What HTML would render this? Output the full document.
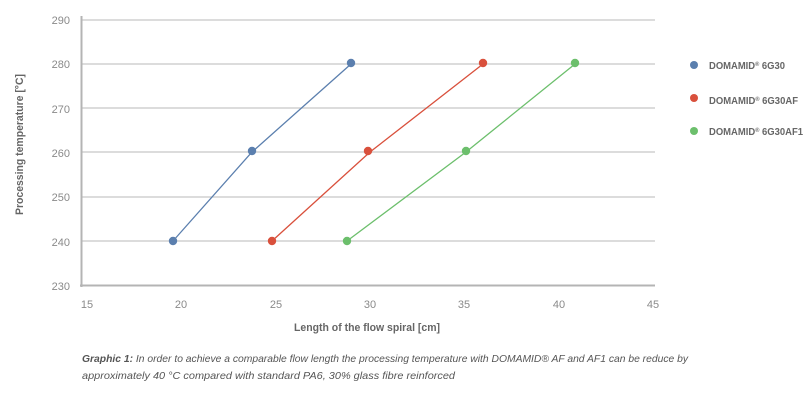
<!DOCTYPE html><html><head><style>body{margin:0;background:#fff;width:806px;height:401px;overflow:hidden}</style></head><body>
<svg width="806" height="401" xmlns="http://www.w3.org/2000/svg" font-family="'Liberation Sans',sans-serif">
<g stroke="#c8c8c8" stroke-width="1.3">
<line x1="82" y1="20" x2="655" y2="20"/><line x1="82" y1="64" x2="655" y2="64"/><line x1="82" y1="108" x2="655" y2="108"/><line x1="82" y1="152" x2="655" y2="152"/><line x1="82" y1="197" x2="655" y2="197"/><line x1="82" y1="241" x2="655" y2="241"/>
</g>
<line x1="81.5" y1="16" x2="81.5" y2="287" stroke="#b4b4b4" stroke-width="2"/>
<line x1="80" y1="285.5" x2="655" y2="285.5" stroke="#b4b4b4" stroke-width="2"/>
<g fill="#8a8a8a" font-size="11" text-anchor="end">
<text x="70" y="24">290</text><text x="70" y="68">280</text><text x="70" y="113">270</text><text x="70" y="157">260</text><text x="70" y="201">250</text><text x="70" y="246">240</text><text x="70" y="290">230</text>
</g>
<g fill="#8a8a8a" font-size="11" text-anchor="middle">
<text x="87" y="308">15</text><text x="181" y="308">20</text><text x="276" y="308">25</text><text x="370" y="308">30</text><text x="464" y="308">35</text><text x="559" y="308">40</text><text x="653" y="308">45</text>
</g>
<text x="294" y="331" fill="#666" font-size="11" font-weight="bold" textLength="146" lengthAdjust="spacingAndGlyphs">Length of the flow spiral [cm]</text>
<text transform="translate(23,215) rotate(-90)" fill="#666" font-size="11" font-weight="bold" textLength="141" lengthAdjust="spacingAndGlyphs">Processing temperature [°C]</text>
<polyline points="173,241 252,152 351,64" fill="none" stroke="#5b7fae" stroke-width="1.3"/>
<polyline points="272,241 370,152 483,64" fill="none" stroke="#d9503c" stroke-width="1.3"/>
<polyline points="347,241 466,152 575,64" fill="none" stroke="#6cbf6c" stroke-width="1.3"/>
<g fill="#5b7fae"><circle cx="173" cy="241" r="4.2"/><circle cx="252" cy="151" r="4.2"/><circle cx="351" cy="63" r="4.2"/><circle cx="694" cy="65" r="4"/></g>
<g fill="#d9503c"><circle cx="272" cy="241" r="4.2"/><circle cx="368" cy="151" r="4.2"/><circle cx="483" cy="63" r="4.2"/><circle cx="694" cy="98" r="4"/></g>
<g fill="#6cbf6c"><circle cx="347" cy="241" r="4.2"/><circle cx="466" cy="151" r="4.2"/><circle cx="575" cy="63" r="4.2"/><circle cx="694" cy="131" r="4"/></g>
<g fill="#666" font-size="10" font-weight="bold">
<text x="709" y="69" textLength="76" lengthAdjust="spacingAndGlyphs">DOMAMID<tspan font-size="6" dy="-3">®</tspan><tspan dy="3"> 6G30</tspan></text>
<text x="709" y="104" textLength="89" lengthAdjust="spacingAndGlyphs">DOMAMID<tspan font-size="6" dy="-3">®</tspan><tspan dy="3"> 6G30AF</tspan></text>
<text x="709" y="135" textLength="94" lengthAdjust="spacingAndGlyphs">DOMAMID<tspan font-size="6" dy="-3">®</tspan><tspan dy="3"> 6G30AF1</tspan></text>
</g>
<g fill="#555" font-size="10.5" font-style="italic">
<text x="82" y="362" textLength="606" lengthAdjust="spacingAndGlyphs"><tspan font-weight="bold">Graphic 1:</tspan> In order to achieve a comparable flow length the processing temperature with DOMAMID® AF and AF1 can be reduce by</text>
<text x="82" y="379" textLength="373" lengthAdjust="spacingAndGlyphs">approximately 40 °C compared with standard PA6, 30% glass fibre reinforced</text>
</g>
</svg>
</body></html>
